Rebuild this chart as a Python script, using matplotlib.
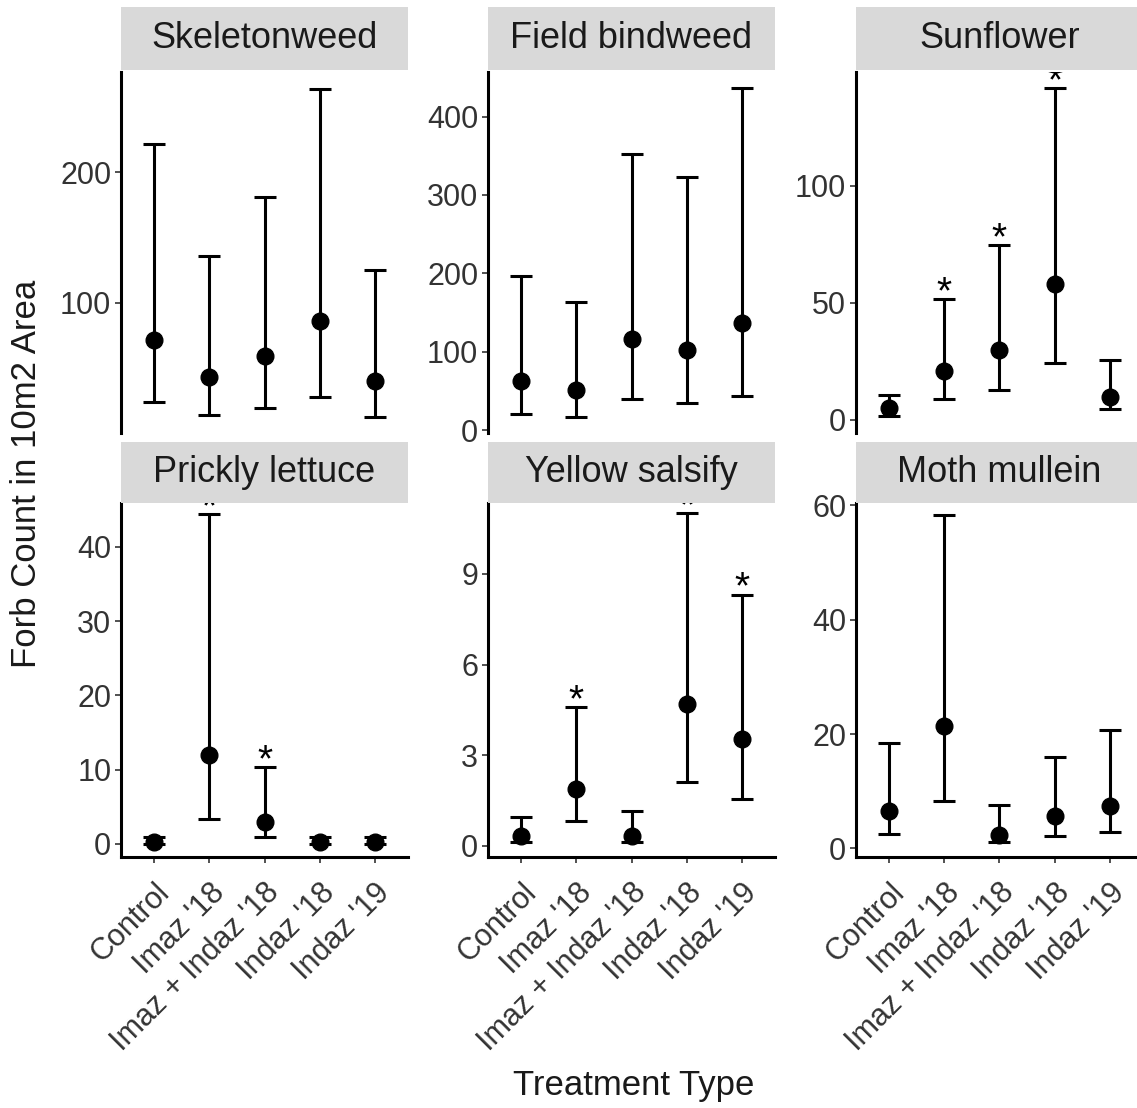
import numpy as np
import matplotlib
matplotlib.use("Agg")
import matplotlib.pyplot as plt
from matplotlib.patches import Rectangle

plt.rcParams['font.family'] = ['Liberation Sans', 'DejaVu Sans']

treatments = ["Control", "Imaz '18", "Imaz + Indaz '18", "Indaz '18", "Indaz '19"]
species = ["Skeletonweed", "Field bindweed", "Sunflower",
           "Prickly lettuce", "Yellow salsify", "Moth mullein"]

# estimated counts with lower / upper confidence limits
skeleton_mean = [71, 43, 59, 86, 40]
skeleton_lo = [24, 14, 19, 28, 12.5]
skeleton_hi = [222, 136, 181, 264, 125]

bindweed_mean = [62, 51, 116, 102, 136]
bindweed_lo = [20, 17, 40, 34, 44]
bindweed_hi = [196, 163, 352, 323, 436]

sunflower_mean = [5, 21, 30, 58, 10]
sunflower_lo = [1.5, 8.8, 12.8, 24.2, 4.6]
sunflower_hi = [10.7, 51.7, 74.8, 141.7, 25.6]

lettuce_mean = [0.3, 12, 3.0, 0.3, 0.3]
lettuce_lo = [0.05, 3.3, 1.0, 0.05, 0.05]
lettuce_hi = [0.9, 44.4, 10.4, 0.9, 0.9]

salsify_mean = [0.31, 1.88, 0.33, 4.71, 3.55]
salsify_lo = [0.14, 0.81, 0.14, 2.10, 1.55]
salsify_hi = [0.97, 4.59, 1.16, 11.03, 8.32]

mullein_mean = [6.6, 21.4, 2.4, 5.6, 7.4]
mullein_lo = [2.6, 8.3, 1.2, 2.2, 2.9]
mullein_hi = [18.4, 58.3, 7.6, 16.0, 20.7]

# significant difference from control
skeleton_sig = [0, 0, 0, 0, 0]
bindweed_sig = [0, 0, 0, 0, 0]
sunflower_sig = [0, 1, 1, 1, 0]
lettuce_sig = [0, 1, 1, 0, 0]
salsify_sig = [0, 1, 0, 1, 1]
mullein_sig = [0, 0, 0, 0, 0]

skeleton_ticks = [100, 200]
bindweed_ticks = [0, 100, 200, 300, 400]
sunflower_ticks = [0, 50, 100]
lettuce_ticks = [0, 10, 20, 30, 40]
salsify_ticks = [0, 3, 6, 9]
mullein_ticks = [0, 20, 40, 60]

panels = [
    (skeleton_mean, skeleton_lo, skeleton_hi, skeleton_sig, skeleton_ticks, (0, 277)),
    (bindweed_mean, bindweed_lo, bindweed_hi, bindweed_sig, bindweed_ticks, (-3.8, 457)),
    (sunflower_mean, sunflower_lo, sunflower_hi, sunflower_sig, sunflower_ticks, (-5.6, 148.7)),
    (lettuce_mean, lettuce_lo, lettuce_hi, lettuce_sig, lettuce_ticks, (-1.75, 45.9)),
    (salsify_mean, salsify_lo, salsify_hi, salsify_sig, salsify_ticks, (-0.37, 11.35)),
    (mullein_mean, mullein_lo, mullein_hi, mullein_sig, mullein_ticks, (-1.5, 60.4)),
]

W, H = 1137, 1108
fig = plt.figure(figsize=(W / 100, H / 100), dpi=100)

lefts = [121, 488, 856]
width = 287
rows = [(72, 433, 7, 70), (503, 857, 442, 503)]  # panel top/bottom, strip top/bottom

x = np.arange(1, len(treatments) + 1)

for i, (mean, lo, hi, sig, ticks, ylim) in enumerate(panels):
    r, c = divmod(i, 3)
    top, bottom, s_top, s_bot = rows[r]
    left = lefts[c]
    ax = fig.add_axes([left / W, 1 - bottom / H, width / W, (bottom - top) / H])

    mean = np.array(mean)
    lo = np.array(lo)
    hi = np.array(hi)
    ax.errorbar(x, mean, yerr=[mean - lo, hi - mean], fmt='o', color='black',
                ms=12, capsize=8, elinewidth=2.2, capthick=2.2)

    # stars sit just above the upper cap, clipped by the panel edge
    for xi, h, s in zip(x, hi, sig):
        if s:
            ax.annotate('*', xy=(xi, h), xytext=(0, -3), textcoords='offset points',
                        ha='center', va='baseline', fontsize=28, color='black',
                        annotation_clip=False, clip_on=True)

    ax.set_xlim(0.4, 5.6)
    ax.set_ylim(*ylim)
    ax.set_yticks(ticks)
    ax.set_xticks(x)

    for side in ['top', 'right']:
        ax.spines[side].set_visible(False)
    ax.spines['left'].set_linewidth(2.2)
    ax.spines['bottom'].set_linewidth(2.2)
    ax.tick_params(axis='both', length=4, width=1.2, color='#333333',
                   labelsize=22, labelcolor='#333333', pad=3)

    if r == 0:
        ax.spines['bottom'].set_visible(False)
        ax.tick_params(axis='x', bottom=False, labelbottom=False)
    else:
        ax.tick_params(axis='x', pad=11)
        ax.set_xticklabels(treatments, rotation=45, ha='right', va='top',
                           rotation_mode='anchor', fontsize=22)

    # facet strip
    fig.patches.append(Rectangle((left / W, 1 - s_bot / H), width / W, (s_bot - s_top) / H,
                                 transform=fig.transFigure, facecolor='#D9D9D9',
                                 edgecolor='none', zorder=0))
    fig.text((left + width / 2) / W, 1 - (s_top + s_bot) / 2 / H, species[i],
             ha='center', va='center', fontsize=26, color='#1A1A1A')

fig.text(27 / W, 1 - 474 / H, 'Forb Count in 10m2 Area', rotation=90,
         ha='center', va='center', fontsize=25, color='#1A1A1A')
fig.text(634 / W, 1 - 1085 / H, 'Treatment Type',
         ha='center', va='center', fontsize=25, color='#1A1A1A')

fig.savefig('out.png', dpi=100)
